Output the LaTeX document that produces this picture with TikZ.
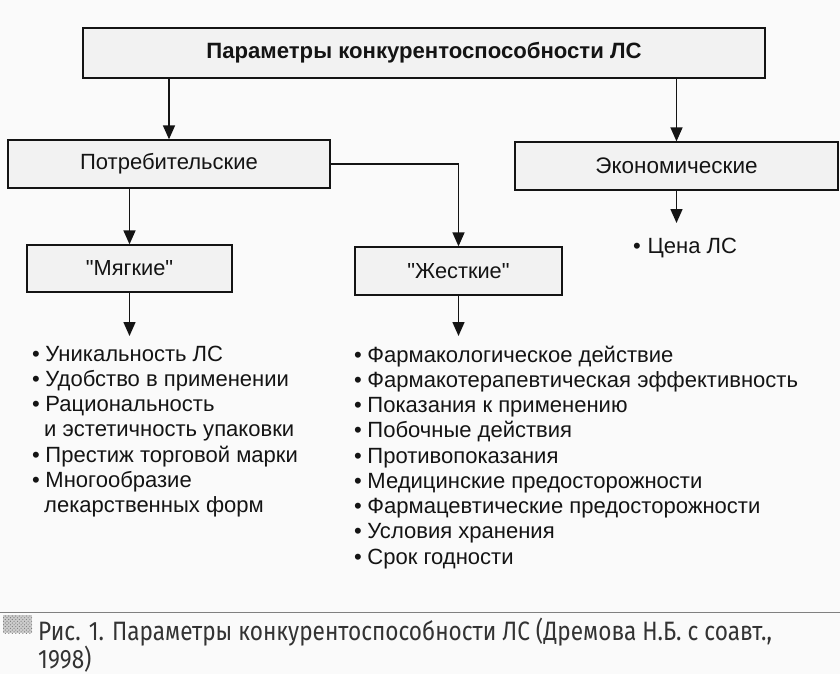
\documentclass[tikz,border=0pt]{standalone}
\usepackage{fontspec}
\setmainfont{Liberation Sans}
\newfontfamily\qfont[Ligatures=ResetAll]{Liberation Sans}
\newfontfamily\capfont[FakeStretch=0.85]{Fira Sans}
\usetikzlibrary{arrows.meta,patterns}
\definecolor{boxfill}{gray}{0.95}
\definecolor{ink}{gray}{0.08}
\newcommand{\sq}{{\qfont\symbol{34}}}
\tikzset{
  box/.style={draw=ink, line width=1.1pt, fill=boxfill, inner sep=0pt, text=ink},
  arr/.style={draw=ink, line width=1.3pt, -{Triangle[length=0.42cm,width=0.36cm]}},
  item/.style={anchor=base west, inner sep=0pt, text=ink, font=\fontsize{18.8}{22}\selectfont},
  capt/.style={anchor=base west, inner sep=0pt, text=black!80, font=\capfont\fontsize{22.7}{26}\selectfont},
}
\begin{document}
\begin{tikzpicture}[x=0.03cm,y=-0.03cm]
\fill[white!98!black] (0,0) rectangle (840,674);
\useasboundingbox (0,0) rectangle (840,674);

\node[box, minimum width=20.46cm, minimum height=1.5cm, font=\bfseries\fontsize{18.9}{22}\selectfont] (top) at (424,53) {Параметры конкурентоспособности ЛС};
\node[box, minimum width=9.66cm, minimum height=1.44cm, font=\fontsize{18.8}{22}\selectfont] (potr) at (169,164) {Потребительские};
\node[box, minimum width=9.69cm, minimum height=1.44cm, font=\fontsize{19.2}{22}\selectfont] (econ) at (676.5,166) {Экономические};
\node[box, minimum width=6.15cm, minimum height=1.41cm, font=\fontsize{18.6}{22}\selectfont] (soft) at (129.5,268.5) {\sq Мягкие\sq};
\node[box, minimum width=6.21cm, minimum height=1.44cm, font=\fontsize{18.6}{22}\selectfont] (hard) at (458.5,271) {\sq Жесткие\sq};

\coordinate (softend) at (129.5,336);
\coordinate (hardend) at (458.5,336);
\coordinate (econend) at (676.5,223);

\draw[arr] (top.south -| potr.north) -- (potr.north);
\draw[arr] (top.south -| econ.north) -- (econ.north);
\draw[arr] (potr.south -| soft.north) -- (soft.north);
\draw[arr] (potr.east) -| (hard.north);
\draw[arr] (soft.south) -- (softend);
\draw[arr] (hard.south) -- (hardend);
\draw[arr] (econ.south) -- (econend);

\node[item] (price) at (633,253) {•\hspace{0.3em}Цена ЛС};

\node[item] (l1) at (32,361) {•\hspace{0.25em}Уникальность ЛС};
\node[item] (l2) at (32,386.3) {•\hspace{0.25em}Удобство в применении};
\node[item] (l3) at (32,411.6) {•\hspace{0.25em}Рациональность};
\node[item] (l4) at (44,436.9) {и эстетичность упаковки};
\node[item] (l5) at (32,462.2) {•\hspace{0.25em}Престиж торговой марки};
\node[item] (l6) at (32,487.5) {•\hspace{0.25em}Многообразие};
\node[item] (l7) at (44,512.8) {лекарственных форм};

\node[item] (r1) at (354,362) {•\hspace{0.25em}Фармакологическое действие};
\node[item] (r2) at (354,387.25) {•\hspace{0.25em}Фармакотерапевтическая эффективность};
\node[item] (r3) at (354,412.5) {•\hspace{0.25em}Показания к применению};
\node[item] (r4) at (354,437.75) {•\hspace{0.25em}Побочные действия};
\node[item] (r5) at (354,463) {•\hspace{0.25em}Противопоказания};
\node[item] (r6) at (354,488.25) {•\hspace{0.25em}Медицинские предосторожности};
\node[item] (r7) at (354,513.5) {•\hspace{0.25em}Фармацевтические предосторожности};
\node[item] (r8) at (354,538.75) {•\hspace{0.25em}Условия хранения};
\node[item] (r9) at (354,564) {•\hspace{0.25em}Срок годности};

\draw[gray, line width=0.8pt] (0,612) -- (840,612);
\fill[gray!40] (3,615) rectangle (32,633);
\fill[pattern=crosshatch dots, pattern color=gray!90!black] (3,615) rectangle (32,633);
\node[capt] (cap1) at (38,640) {Рис. 1. Параметры конкурентоспособности ЛС (Дремова Н.Б. с соавт.,};
\node[capt] (cap2) at (38,668) {1998)};
\end{tikzpicture}
\end{document}
